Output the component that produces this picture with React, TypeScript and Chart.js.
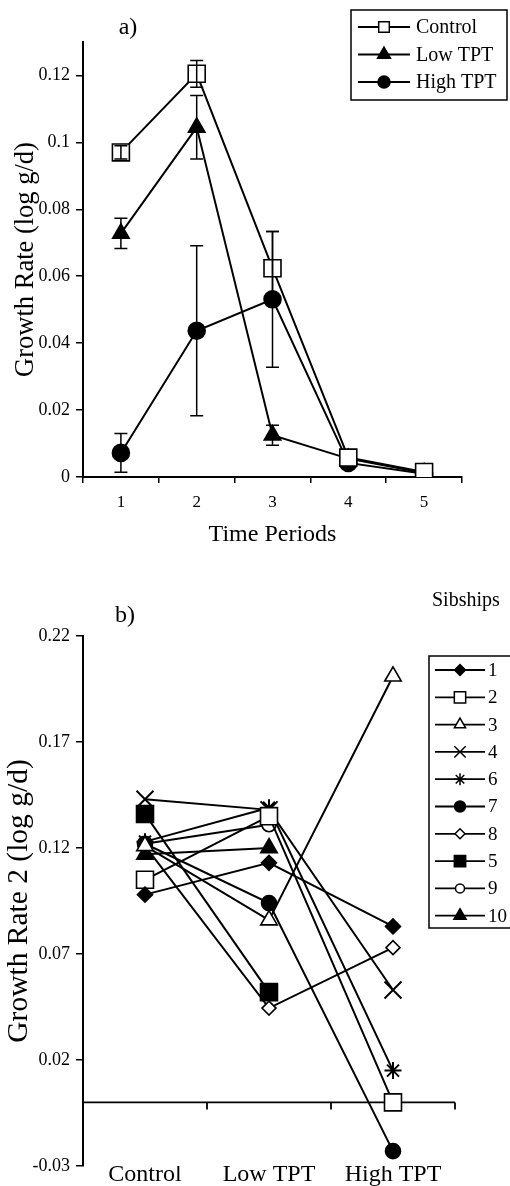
import React, { useEffect, useRef } from 'react';
import { Chart, registerables } from 'chart.js';
import { drawPoint } from 'chart.js/helpers';

Chart.register(...registerables);

const FONT = '"Liberation Serif", "Times New Roman", serif';
Chart.defaults.font.family = FONT;
Chart.defaults.color = '#000';

// ---------- Panel a) data ----------
const periodLabels = ['1', '2', '3', '4', '5'];
const controlGrowth = [0.097, 0.1205, 0.0624, 0.0058, 0.0015];
const lowGrowth = [0.0728, 0.1045, 0.0125, 0.0055, 0.0012];
const highGrowth = [0.0072, 0.0437, 0.0531, 0.0042, 0.001];
const controlErr = [0.002, 0.004, 0.011, 0, 0];
const lowErr = [0.0045, 0.0095, 0.003, 0, 0];
const highErr = [0.0058, 0.0254, 0.0203, 0, 0];
const yTicksA = [0, 0.02, 0.04, 0.06, 0.08, 0.1, 0.12];
const seriesNamesA = ['Control', 'Low TPT', 'High TPT'];

// ---------- Panel b) data ----------
const treatmentLabels = ['Control', 'Low TPT', 'High TPT'];
const sibshipNames = ['1', '2', '3', '4', '6', '7', '8', '5', '9', '10'];
const sib1 = [0.098, 0.113, 0.083];
const sib2 = [0.105, 0.135, 0.0];
const sib3 = [0.121, 0.086, 0.201];
const sib4 = [0.143, 0.138, 0.053];
const sib6 = [0.123, 0.139, 0.015];
const sib7 = [0.122, 0.094, -0.023];
const sib8 = [0.121, 0.0445, 0.073];
const sib5 = [0.136, 0.052, null];
const sib9 = [0.122, 0.131, null];
const sib10 = [0.117, 0.12, null];
const sibshipValues = [sib1, sib2, sib3, sib4, sib6, sib7, sib8, sib5, sib9, sib10];
const yTicksB = [-0.03, 0.02, 0.07, 0.12, 0.17, 0.22];

// ---------- styles ----------
const stylesA = [
  { pointStyle: 'rect', radius: 12, fill: '#fff', legendRadius: 7.5 },
  { pointStyle: 'triangle', radius: 9.5, fill: '#000', legendRadius: 7.5 },
  { pointStyle: 'circle', radius: 8.5, fill: '#000', legendRadius: 6 },
];
const stylesB = [
  { pointStyle: 'rectRot', radius: 7.5, fill: '#000', legendRadius: 5.5 },
  { pointStyle: 'rect', radius: 12, fill: '#fff', legendRadius: 8 },
  { pointStyle: 'triangle', radius: 9.5, fill: '#fff', legendRadius: 6.5 },
  { pointStyle: 'crossRot', radius: 12, fill: '#000', legendRadius: 8 },
  { pointStyle: 'star', radius: 8.5, fill: '#000', legendRadius: 6 },
  { pointStyle: 'circle', radius: 7.5, fill: '#000', legendRadius: 5.5 },
  { pointStyle: 'rectRot', radius: 7, fill: '#fff', legendRadius: 5 },
  { pointStyle: 'rect', radius: 12, fill: '#000', legendRadius: 8 },
  { pointStyle: 'circle', radius: 7, fill: '#fff', legendRadius: 4.5 },
  { pointStyle: 'triangle', radius: 9.5, fill: '#000', legendRadius: 7 },
];

const errorBarPlugin = {
  id: 'errorBars',
  afterDatasetsDraw(chart: any) {
    const ctx = chart.ctx;
    const xs = chart.scales.x;
    const ys = chart.scales.y;
    ctx.save();
    ctx.strokeStyle = '#000';
    ctx.lineWidth = 1.5;
    chart.data.datasets.forEach((ds: any) => {
      const errs = ds.errors;
      if (!errs) return;
      ds.data.forEach((v: number, i: number) => {
        const e = errs[i];
        if (!e) return;
        const px = xs.getPixelForValue(i);
        const top = ys.getPixelForValue(v + e);
        const bot = ys.getPixelForValue(v - e);
        ctx.beginPath();
        ctx.moveTo(px, top);
        ctx.lineTo(px, bot);
        ctx.moveTo(px - 6.5, top);
        ctx.lineTo(px + 6.5, top);
        ctx.moveTo(px - 6.5, bot);
        ctx.lineTo(px + 6.5, bot);
        ctx.stroke();
      });
    });
    ctx.restore();
  },
};

function makeLegendPlugin(id: string, box: any, names: string[], styles: any[], fontSize: number, extra?: (ctx: any) => void) {
  return {
    id,
    afterDraw(chart: any) {
      const ctx = chart.ctx;
      ctx.save();
      ctx.strokeStyle = '#000';
      ctx.lineWidth = 1.5;
      ctx.strokeRect(box.x, box.y, box.w, box.h);
      ctx.font = `${fontSize}px ${FONT}`;
      ctx.textBaseline = 'middle';
      ctx.textAlign = 'left';
      names.forEach((name, i) => {
        const yy = box.firstRow + i * box.rowGap;
        ctx.strokeStyle = '#000';
        ctx.lineWidth = 1.8;
        ctx.beginPath();
        ctx.moveTo(box.lineStart, yy);
        ctx.lineTo(box.lineEnd, yy);
        ctx.stroke();
        const st = styles[i];
        ctx.fillStyle = st.fill;
        ctx.lineWidth = 1.5;
        drawPoint(ctx, { pointStyle: st.pointStyle, radius: st.legendRadius, rotation: 0, borderWidth: 1.5 } as any, (box.lineStart + box.lineEnd) / 2, yy);
        ctx.fillStyle = '#000';
        ctx.fillText(name, box.textX, yy + 1);
      });
      if (extra) extra(ctx);
      ctx.restore();
    },
  };
}

const zeroLinePlugin = {
  id: 'zeroLine',
  beforeDatasetsDraw(chart: any) {
    const ctx = chart.ctx;
    const xs = chart.scales.x;
    const ys = chart.scales.y;
    const area = chart.chartArea;
    const y0 = ys.getPixelForValue(0);
    const step = xs.getPixelForValue(1) - xs.getPixelForValue(0);
    ctx.save();
    ctx.strokeStyle = '#000';
    ctx.lineWidth = 1.8;
    ctx.beginPath();
    ctx.moveTo(area.left, y0);
    ctx.lineTo(area.right, y0);
    for (let i = 0; i < xs.ticks.length; i++) {
      const bx = xs.getPixelForValue(i) + step / 2;
      ctx.moveTo(bx, y0);
      ctx.lineTo(bx, y0 + 7);
    }
    ctx.stroke();
    ctx.restore();
  },
};

const fmt = (v: number) => String(Number(Number(v).toFixed(2)));

export default function App() {
  const refA = useRef<HTMLCanvasElement>(null);
  const refB = useRef<HTMLCanvasElement>(null);

  useEffect(() => {
    const seriesA = [controlGrowth, lowGrowth, highGrowth];
    const errsA = [controlErr, lowErr, highErr];
    const chartA = new Chart(refA.current as HTMLCanvasElement, {
      type: 'line',
      data: {
        labels: periodLabels,
        datasets: seriesA.map((d, i) => ({
          label: seriesNamesA[i],
          data: d,
          errors: errsA[i],
          borderColor: '#000',
          borderWidth: 2,
          tension: 0,
          fill: false,
          pointStyle: stylesA[i].pointStyle,
          pointRadius: stylesA[i].radius,
          pointBackgroundColor: stylesA[i].fill,
          pointBorderColor: '#000',
          pointBorderWidth: 1.6,
        })) as any,
      },
      options: {
        animation: false,
        responsive: false,
        events: [],
        layout: { padding: { top: 42, right: 48, left: 0, bottom: 0 } },
        plugins: { legend: { display: false }, tooltip: { enabled: false } },
        scales: {
          x: {
            type: 'category',
            offset: true,
            grid: { offset: true, drawOnChartArea: false, drawTicks: true, tickLength: 6, color: '#000', lineWidth: 1.5 },
            border: { color: '#000', width: 2 },
            ticks: { color: '#000', font: { size: 17, family: FONT }, padding: 9, maxRotation: 0 },
            title: { display: true, text: 'Time Periods', color: '#000', font: { size: 24, family: FONT }, padding: { top: 0, bottom: 11 } },
            afterFit: (s: any) => { s.height = 83; },
          },
          y: {
            type: 'linear',
            min: 0,
            max: 0.13,
            afterBuildTicks: (s: any) => { s.ticks = yTicksA.map((v) => ({ value: v })); },
            grid: { drawOnChartArea: false, tickLength: 7, color: '#000', lineWidth: 1.5 },
            border: { color: '#000', width: 2 },
            ticks: { color: '#000', font: { size: 18, family: FONT }, padding: 6, callback: (v: any) => fmt(v) },
            title: { display: true, text: 'Growth Rate (log g/d)', color: '#000', font: { size: 26.5, family: FONT }, padding: { top: 10, bottom: 0 } },
            afterFit: (s: any) => { s.width = 83; },
          },
        },
      } as any,
      plugins: [
        errorBarPlugin,
        makeLegendPlugin('legendA', { x: 351, y: 10, w: 156, h: 90, firstRow: 27, rowGap: 27.5, lineStart: 358, lineEnd: 410, textX: 416 }, seriesNamesA, stylesA, 20, (ctx) => {
          ctx.font = `24px ${FONT}`;
          ctx.textAlign = 'center';
          ctx.fillText('a)', 128, 28);
        }),
      ],
    });

    const chartB = new Chart(refB.current as HTMLCanvasElement, {
      type: 'line',
      data: {
        labels: treatmentLabels,
        datasets: sibshipValues.map((d, i) => ({
          label: sibshipNames[i],
          data: d,
          borderColor: '#000',
          borderWidth: 2,
          tension: 0,
          fill: false,
          pointStyle: stylesB[i].pointStyle,
          pointRadius: stylesB[i].radius,
          pointBackgroundColor: stylesB[i].fill,
          pointBorderColor: '#000',
          pointBorderWidth: stylesB[i].pointStyle === 'crossRot' || stylesB[i].pointStyle === 'star' ? 2 : 1.6,
        })) as any,
      },
      options: {
        animation: false,
        responsive: false,
        events: [],
        layout: { padding: { top: 76, right: 55, left: 0, bottom: 0 } },
        plugins: { legend: { display: false }, tooltip: { enabled: false } },
        scales: {
          x: {
            type: 'category',
            offset: true,
            grid: { display: false },
            border: { display: false },
            ticks: { color: '#000', font: { size: 24, family: FONT }, padding: -14, maxRotation: 0, autoSkip: false },
            afterFit: (s: any) => { s.height = 20; },
          },
          y: {
            type: 'linear',
            min: -0.03,
            max: 0.22,
            afterBuildTicks: (s: any) => { s.ticks = yTicksB.map((v) => ({ value: v })); },
            grid: { drawOnChartArea: false, tickLength: 7, color: '#000', lineWidth: 1.5 },
            border: { color: '#000', width: 2 },
            ticks: { color: '#000', font: { size: 18, family: FONT }, padding: 6, callback: (v: any) => fmt(v) },
            title: { display: true, text: 'Growth Rate 2 (log g/d)', color: '#000', font: { size: 29.5, family: FONT }, padding: { top: 2, bottom: 0 } },
            afterFit: (s: any) => { s.width = 83; },
          },
        },
      } as any,
      plugins: [
        zeroLinePlugin,
        makeLegendPlugin('legendB', { x: 429, y: 96, w: 100, h: 272, firstRow: 110, rowGap: 27.3, lineStart: 435, lineEnd: 485, textX: 488 }, sibshipNames, stylesB, 19, (ctx) => {
          ctx.font = `20px ${FONT}`;
          ctx.textAlign = 'left';
          ctx.fillText('Sibships', 432, 41);
          ctx.font = `24px ${FONT}`;
          ctx.textAlign = 'center';
          ctx.fillText('b)', 125, 56);
        }),
      ],
    });

    return () => {
      chartA.destroy();
      chartB.destroy();
    };
  }, []);

  return (
    <div style={{ position: 'absolute', left: 0, top: 0, width: 510, height: 1186, background: '#fff' }}>
      <canvas ref={refA} width={510} height={560} style={{ position: 'absolute', left: 0, top: 0 }} />
      <canvas ref={refB} width={510} height={626} style={{ position: 'absolute', left: 0, top: 560 }} />
    </div>
  );
}
